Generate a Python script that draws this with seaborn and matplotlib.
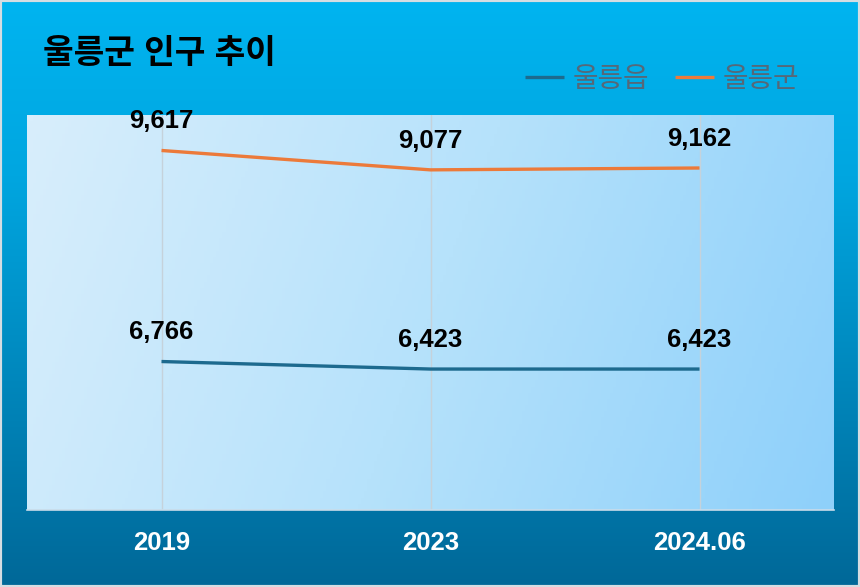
import matplotlib
matplotlib.use('Agg')
import matplotlib.pyplot as plt
from matplotlib.colors import LinearSegmentedColormap
from matplotlib.patches import Rectangle
import numpy as np
import pandas as pd
import seaborn as sns

# data
periods = ['2019', '2023', '2024.06']
eup = [6766, 6423, 6423]        # 울릉읍
gun = [9617, 9077, 9162]        # 울릉군
series_names = ['울릉읍', '울릉군']
colors = ['#1d6a8e', '#ec7a3a']

sns.set_theme(style='white')
plt.rcParams['font.family'] = ['Liberation Sans', 'Noto Sans CJK KR', 'DejaVu Sans']

# stacked line chart: second series sits on top of the first
df = pd.DataFrame({
    'pos': list(range(len(periods))) * 2,
    'value': eup + gun,
    'plotted': eup + [a + b for a, b in zip(eup, gun)],
    'series': [series_names[0]] * len(periods) + [series_names[1]] * len(periods),
})

fig = plt.figure(figsize=(8.6, 5.87), dpi=100)

# figure background gradient (top bright cyan -> bottom darker blue)
bg = fig.add_axes([0, 0, 1, 1], zorder=-2)
bg_cmap = LinearSegmentedColormap.from_list(
    'bg', [(0.0, '#00b4f0'), (0.3, '#00a6e0'), (1.0, '#006898')])
bg.imshow(np.linspace(0, 1, 256).reshape(-1, 1), cmap=bg_cmap, aspect='auto',
          extent=[0, 1, 0, 1], origin='upper')
bg.set_axis_off()
fig.patches.append(Rectangle((0, 0), 1, 1, transform=fig.transFigure,
                             fill=False, edgecolor='#d6dde2', lw=3))

ax = fig.add_axes([27 / 860, 1 - 510 / 587, 807 / 860, 395 / 587])
ymax = 18000
pa_cmap = LinearSegmentedColormap.from_list('pa', ['#d8eefc', '#b6e2fb', '#8ed0fa'])
gx = np.linspace(0, 1, 256)
grad = gx[None, :] * 0.85 + np.linspace(0, 0.15, 64)[:, None]
ax.imshow(grad, cmap=pa_cmap, aspect='auto', extent=[-0.5, 2.5, 0, ymax],
          origin='upper', zorder=0)

sns.lineplot(data=df, x='pos', y='plotted', hue='series', hue_order=series_names,
             palette=colors, linewidth=2.4, ax=ax, zorder=3, solid_capstyle='butt')

for _, r in df.iterrows():
    ax.annotate(f"{r['value']:,}", (r['pos'], r['plotted']), xytext=(0, 21),
                textcoords='offset points', ha='center', va='center',
                fontsize=18.5, fontweight='bold', color='black', zorder=4)

ax.set_xlim(-0.5, 2.5)
ax.set_ylim(0, ymax)
ax.set_xticks(range(len(periods)))
ax.set_xticklabels(periods, color='white', fontsize=18.5, fontweight='bold')
ax.set_yticks([])
ax.tick_params(axis='x', length=0, pad=15)
ax.grid(axis='x', color='#c5d2db', lw=1)
ax.set_xlabel('')
ax.set_ylabel('')
for s in ['top', 'left', 'right']:
    ax.spines[s].set_visible(False)
ax.spines['bottom'].set_color('#c9dcea')
ax.spines['bottom'].set_linewidth(1.2)

handles, labels = ax.get_legend_handles_labels()
ax.legend(handles, labels, loc='center right', bbox_to_anchor=(799 / 860, 1 - 80 / 587),
          bbox_transform=fig.transFigure, ncol=2, frameon=False, fontsize=20,
          labelcolor='#566878', handlelength=1.4, handletextpad=0.3,
          columnspacing=0.95, borderpad=0, borderaxespad=0)

fig.text(43 / 860, 1 - 54 / 587, '울릉군 인구 추이', fontsize=24, fontweight='bold',
         color='black', ha='left', va='center')

fig.savefig('out.png', dpi=100)
